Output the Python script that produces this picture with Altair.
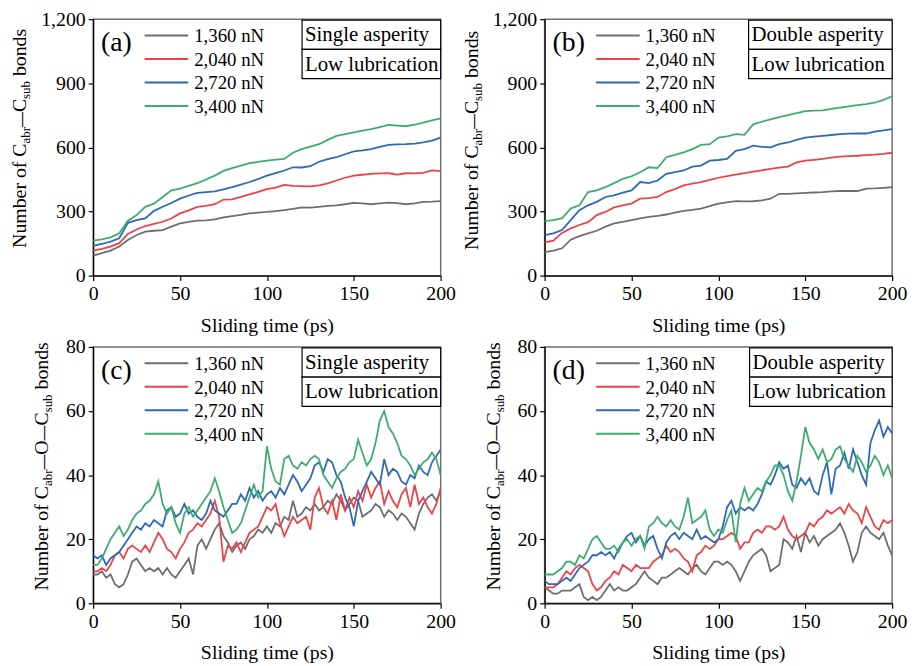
import altair as alt
import pandas as pd

FONT = "Liberation Serif, Times New Roman, DejaVu Serif, serif"
LOADS = ["1,360 nN", "2,040 nN", "2,720 nN", "3,400 nN"]
COLORS = ["#6d6e71", "#ee4249", "#2e69b6", "#3cad6e"]

T_AB = [5 * i for i in range(41)]
T_CD = [2.5 * i for i in range(81)]

# Panel (a): single asperity, C_abr-C_sub bonds
A_GRAY = [94, 105, 117, 136, 167, 190, 206, 210, 213, 229, 244, 252, 257, 258, 263, 272, 278, 284, 291, 295,
          298, 302, 306, 312, 319, 318, 322, 326, 329, 334, 340, 338, 334, 338, 342, 339, 334, 338, 345, 346, 349]
A_RED = [117, 125, 136, 152, 195, 216, 232, 242, 252, 267, 291, 305, 322, 326, 334, 356, 357, 368, 380, 392,
         405, 412, 425, 420, 419, 418, 422, 432, 445, 458, 468, 472, 476, 478, 479, 473, 479, 478, 481, 492, 489]
A_BLUE = [139, 148, 159, 175, 247, 260, 268, 303, 322, 340, 360, 375, 387, 391, 394, 404, 414, 426, 438, 452,
          468, 480, 492, 507, 506, 512, 533, 545, 554, 568, 581, 586, 592, 602, 612, 614, 615, 618, 623, 632, 646]
A_GREEN = [164, 170, 179, 198, 257, 283, 322, 337, 368, 399, 407, 420, 433, 450, 468, 490, 503, 515, 526, 532,
           538, 543, 546, 575, 592, 604, 615, 635, 654, 662, 670, 678, 685, 695, 705, 702, 699, 706, 716, 726, 736]

# Panel (b): double asperity, C_abr-C_sub bonds
B_GRAY = [110, 117, 128, 168, 185, 198, 210, 229, 244, 252, 260, 268, 275, 280, 286, 295, 303, 308, 314, 325,
          337, 343, 349, 347, 348, 352, 360, 383, 383, 385, 387, 389, 391, 394, 396, 396, 396, 407, 408, 411, 414]
B_RED = [156, 164, 200, 221, 237, 250, 283, 298, 319, 329, 337, 360, 363, 368, 391, 405, 422, 430, 438, 448,
         458, 466, 473, 480, 487, 493, 499, 505, 510, 530, 538, 542, 546, 552, 557, 559, 561, 564, 566, 570, 575]
B_BLUE = [190, 198, 213, 260, 306, 329, 345, 368, 376, 388, 399, 438, 433, 445, 476, 484, 492, 510, 515, 538,
          541, 546, 584, 592, 608, 602, 600, 615, 623, 635, 646, 650, 654, 658, 662, 664, 665, 665, 674, 680, 685]
B_GREEN = [255, 260, 268, 314, 329, 391, 399, 414, 433, 453, 465, 484, 507, 503, 554, 565, 577, 592, 612, 615,
           646, 652, 662, 659, 708, 720, 731, 742, 751, 760, 770, 772, 773, 780, 786, 792, 798, 803, 809, 822, 840]

# Panel (c): single asperity, C_abr-O-C_sub bonds
C_GRAY = [9, 9, 10, 8, 9, 6, 5, 6, 9, 13, 14, 12, 10, 11, 10, 11, 9, 11, 9, 8,
          10, 12, 14, 9, 18, 20, 17, 20, 23, 25, 21, 19, 16, 18, 19, 17, 20, 21, 23, 22,
          24, 22, 25, 24, 27, 26, 32, 27, 28, 30, 29, 31, 29, 30, 32, 31, 34, 32, 29, 31,
          33, 32, 27, 28, 29, 31, 30, 27, 29, 28, 26, 28, 27, 25, 23, 28, 31, 33, 34, 32, 35]
C_RED = [10, 10, 11, 10, 12, 15, 16, 14, 17, 18, 17, 16, 18, 16, 19, 22, 20, 17, 16, 14,
         17, 19, 22, 23, 25, 24, 26, 28, 32, 27, 13, 18, 17, 19, 16, 19, 22, 23, 24, 27,
         30, 29, 31, 25, 21, 24, 27, 25, 26, 27, 23, 33, 36, 30, 28, 32, 26, 34, 29, 33,
         30, 35, 32, 37, 33, 36, 38, 31, 35, 32, 30, 34, 36, 30, 37, 31, 33, 30, 28, 31, 36]
C_BLUE = [15, 14, 15, 12, 14, 15, 16, 18, 20, 22, 24, 23, 25, 24, 26, 25, 24, 29, 30, 27,
          28, 31, 28, 29, 27, 26, 28, 32, 29, 28, 27, 29, 31, 31, 34, 32, 36, 33, 35, 32,
          34, 35, 33, 36, 34, 37, 40, 38, 35, 37, 39, 43, 44, 41, 45, 44, 40, 38, 33, 30,
          24, 32, 35, 38, 41, 39, 37, 45, 40, 42, 41, 38, 37, 40, 39, 43, 41, 40, 44, 46, 48]
C_GREEN = [12, 12, 14, 17, 20, 22, 24, 21, 23, 26, 28, 29, 31, 32, 34, 38, 31, 28, 30, 25,
           22, 28, 30, 27, 29, 31, 33, 35, 39, 35, 30, 26, 22, 23, 25, 29, 33, 37, 33, 35,
           49, 42, 38, 37, 45, 46, 43, 42, 44, 43, 45, 46, 45, 40, 38, 36, 39, 41, 42, 44,
           45, 51, 47, 43, 45, 50, 57, 60, 55, 53, 50, 46, 45, 43, 40, 42, 44, 45, 47, 45, 40]

# Panel (d): double asperity, C_abr-O-C_sub bonds
D_GRAY = [5, 4, 3, 3, 4, 4, 4, 5, 6, 2, 1, 2, 1, 2, 4, 6, 4, 5, 4, 4,
          5, 6, 8, 10, 8, 7, 6, 8, 8, 9, 10, 11, 10, 9, 11, 12, 10, 9, 11, 13,
          13, 12, 13, 12, 10, 7, 10, 13, 15, 16, 17, 15, 10, 11, 12, 20, 19, 17, 21, 16,
          22, 19, 21, 18, 20, 21, 22, 23, 25, 22, 18, 13, 16, 22, 24, 22, 21, 20, 22, 18, 15]
D_RED = [5, 5, 5, 6, 8, 10, 9, 11, 12, 11, 10, 6, 4, 5, 7, 8, 10, 9, 12, 11,
         10, 12, 11, 11, 11, 13, 14, 15, 18, 16, 17, 16, 14, 13, 10, 15, 16, 18, 17, 18,
         20, 20, 21, 22, 21, 17, 19, 19, 22, 23, 22, 24, 24, 23, 24, 27, 23, 21, 20, 21,
         22, 25, 24, 26, 27, 29, 28, 29, 30, 28, 31, 29, 28, 25, 30, 27, 24, 23, 26, 25, 26]
D_BLUE = [7, 6, 6, 6, 7, 8, 7, 9, 11, 12, 13, 15, 15, 16, 15, 16, 14, 17, 19, 21,
          22, 19, 21, 18, 20, 21, 17, 14, 19, 21, 22, 20, 22, 21, 20, 23, 20, 21, 20, 19,
          20, 24, 30, 32, 28, 30, 29, 30, 29, 31, 34, 38, 37, 40, 44, 42, 43, 37, 36, 39,
          37, 39, 35, 34, 40, 44, 34, 42, 43, 47, 42, 48, 44, 40, 37, 50, 54, 57, 52, 55, 53]
D_GREEN = [9, 9, 9, 10, 11, 13, 13, 12, 15, 14, 17, 20, 21, 19, 17, 17, 18, 16, 19, 20,
           18, 20, 21, 17, 24, 25, 27, 25, 24, 26, 24, 23, 27, 33, 25, 26, 27, 29, 23, 21,
           23, 22, 26, 29, 19, 31, 36, 32, 34, 36, 35, 38, 40, 43, 43, 40, 35, 32, 38, 46,
           55, 50, 48, 45, 48, 44, 45, 48, 49, 45, 43, 41, 46, 44, 41, 43, 46, 44, 40, 43, 39]

W, H = 351, 259

# approximate Times/Liberation Serif advance widths (per 1000 em) for laying out the y title pieces
TW = {"N": 722, "u": 500, "m": 778, "b": 500, "e": 444, "r": 333, " ": 250, "o": 500, "f": 333,
      "C": 667, "a": 444, "s": 389, "d": 500, "O": 722, "n": 500, "\u2014": 1000}


def tw(s, size):
    return sum(TW.get(c, 500) for c in s) * size / 1000.0


ONE = pd.DataFrame({"k": [0]})


def panel(times, series, ymax, ystep, label, cond, box_left, title_parts, title_x, title_y0):
    x_enc = alt.X("t:Q", scale=alt.Scale(domain=[0, 200], nice=False),
                  axis=alt.Axis(values=[0, 50, 100, 150, 200], title="Sliding time (ps)",
                                labelFlush=False, titlePadding=12))
    y_enc = alt.Y("v:Q", scale=alt.Scale(domain=[0, ymax], nice=False),
                  axis=alt.Axis(values=list(range(0, ymax + 1, ystep)), format=",.0f", title=None,
                                labelFlush=False))
    layers = []
    for vals, col in zip(series, COLORS):
        df = pd.DataFrame({"t": times, "v": vals})
        layers.append(alt.Chart(df).mark_line(color=col, strokeWidth=1.8, clip=True)
                      .encode(x=x_enc, y=y_enc))
    # legend
    for i, (lab, col) in enumerate(zip(LOADS, COLORS)):
        yy = 16.5 + i * 23.7
        layers.append(alt.Chart(ONE).mark_rule(color=col, strokeWidth=2)
                      .encode(x=alt.value(52), x2=alt.value(96), y=alt.value(yy)))
        layers.append(alt.Chart(ONE).mark_text(text=lab, font=FONT, fontSize=19, align="left",
                                               baseline="middle", color="black")
                      .encode(x=alt.value(102), y=alt.value(yy + 1)))
    # panel label
    layers.append(alt.Chart(ONE).mark_text(text=label, font=FONT, fontSize=28, align="left",
                                           baseline="middle", color="black")
                  .encode(x=alt.value(8), y=alt.value(24)))
    # condition boxes
    for j, txt in enumerate(cond):
        y1 = 1 + j * 29.5
        layers.append(alt.Chart(ONE).mark_rect(fill="white", stroke="black", strokeWidth=1.2)
                      .encode(x=alt.value(box_left), x2=alt.value(W), y=alt.value(y1),
                              y2=alt.value(y1 + 29.5)))
        layers.append(alt.Chart(ONE).mark_text(text=txt, font=FONT, fontSize=21, align="left",
                                               baseline="middle", color="black")
                      .encode(x=alt.value(box_left + 3), y=alt.value(y1 + 15.5)))
    # y-axis title with subscripts, built from pieces
    ycur = title_y0
    for txt, size, sub, weight in title_parts:
        if txt.startswith(" "):
            ycur -= tw(" ", size)
            txt = txt.lstrip()
        layers.append(alt.Chart(ONE).mark_text(text=txt, font=FONT, fontSize=size, fontWeight=weight,
                                               angle=270, align="left", baseline="alphabetic",
                                               color="black")
                      .encode(x=alt.value(title_x + (4 if sub else 0)), y=alt.value(ycur)))
        ycur -= tw(txt, size)
    return alt.layer(*layers).properties(width=W, height=H)


T1 = [("Number of C", 20, False, "normal"), ("abr", 13, True, "normal"), ("\u2014", 15, False, "bold"),
      ("C", 20, False, "normal"), ("sub", 13, True, "normal"), (" bonds", 20, False, "normal")]
T2 = [("Number of C", 20, False, "normal"), ("abr", 13, True, "normal"), ("\u2014", 15, False, "bold"),
      ("O", 20, False, "normal"), ("\u2014", 15, False, "bold"),
      ("C", 20, False, "normal"), ("sub", 13, True, "normal"), (" bonds", 20, False, "normal")]

pa = panel(T_AB, [A_GRAY, A_RED, A_BLUE, A_GREEN], 1200, 300, "(a)",
           ["Single asperity", "Low lubrication"], 211, T1, -68, 231)
pb = panel(T_AB, [B_GRAY, B_RED, B_BLUE, B_GREEN], 1200, 300, "(b)",
           ["Double asperity", "Low lubrication"], 206, T1, -67, 233)
pc = panel(T_CD, [C_GRAY, C_RED, C_BLUE, C_GREEN], 80, 20, "(c)",
           ["Single asperity", "Low lubrication"], 211, T2, -46, 246)
pd_ = panel(T_CD, [D_GRAY, D_RED, D_BLUE, D_GREEN], 80, 20, "(d)",
            ["Double asperity", "Low lubrication"], 207, T2, -45, 246)

chart = (alt.concat(pa, pb, pc, pd_, columns=2, spacing={"row": 72, "column": 105}, bounds="flush")
         .properties(padding={"left": 1, "top": -3, "right": 0, "bottom": 0}, background="white")
         .configure_view(stroke="#6e6e6e", strokeWidth=1.5)
         .configure_axis(labelFont=FONT, labelFontSize=20, labelColor="black",
                         titleFont=FONT, titleFontSize=20, titleFontWeight="normal", titleColor="black",
                         grid=False, domainColor="black", domainWidth=1.3,
                         tickColor="black", tickWidth=1.2, tickSize=5, labelPadding=3))

chart.save("out.html", embed_options={"renderer": "svg", "actions": False})
